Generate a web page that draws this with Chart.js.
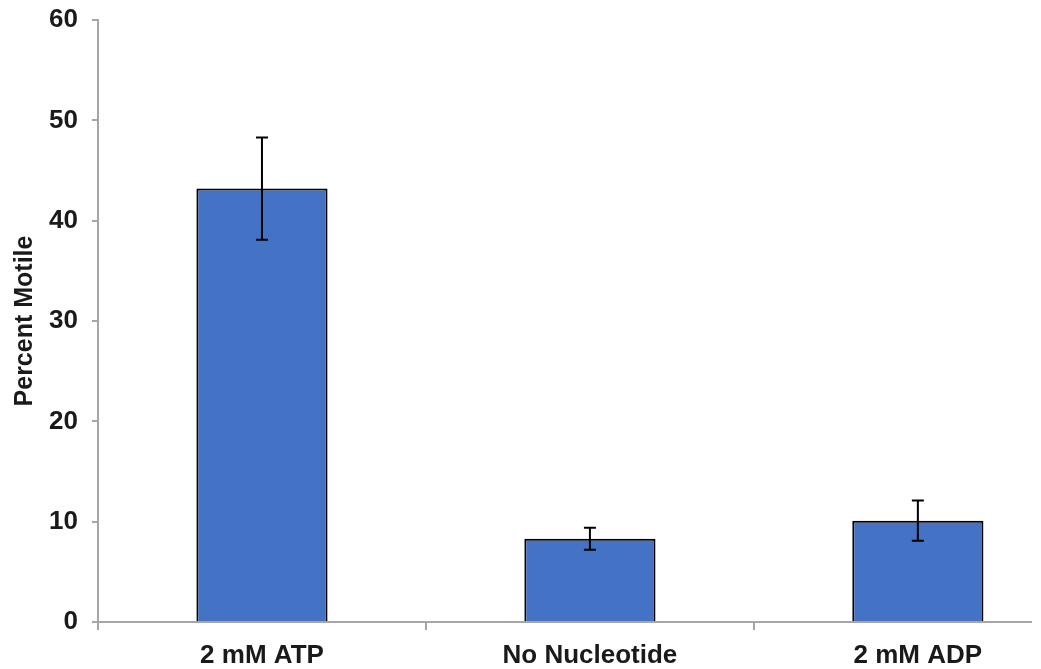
<!DOCTYPE html>
<html>
<head>
<meta charset="utf-8">
<script src="https://cdn.jsdelivr.net/npm/chart.js@4.4.1/dist/chart.umd.min.js"></script>
<style>
  html, body { margin: 0; padding: 0; background: #fff; overflow: hidden; }
  #wrap { position: relative; width: 1041px; height: 669px; }
</style>
</head>
<body>
<div id="wrap"><canvas id="chart"></canvas></div>
<script>
const categories = ["2 mM ATP", "No Nucleotide", "2 mM ADP"]
const values = [43.2, 8.3, 10.1]
const errors = [5.1, 1.1, 2.0]
const yTicks = [0, 10, 20, 30, 40, 50, 60]

const axisGrey = "#a6a6a6"
const textColor = "#1a1a1a"
const tickFont = { family: "'Liberation Sans', Arial, sans-serif", size: 26, weight: "bold" }

// error bars drawn on top of the bars, through the y scale
const errorBars = {
  id: "errorBars",
  afterDatasetsDraw(chart) {
    const meta = chart.getDatasetMeta(0)
    const y = chart.scales.y
    const ctx = chart.ctx
    ctx.save()
    ctx.strokeStyle = "#000"
    ctx.lineWidth = 2
    meta.data.forEach((bar, i) => {
      const top = y.getPixelForValue(values[i] + errors[i])
      const bottom = y.getPixelForValue(values[i] - errors[i])
      const cap = 6
      ctx.beginPath()
      ctx.moveTo(bar.x, top)
      ctx.lineTo(bar.x, bottom)
      ctx.moveTo(bar.x - cap, top)
      ctx.lineTo(bar.x + cap, top)
      ctx.moveTo(bar.x - cap, bottom)
      ctx.lineTo(bar.x + cap, bottom)
      ctx.stroke()
    })
    ctx.restore()
  },
}

const data = {
  datasets: [
    {
      label: "Percent Motile",
      data: categories.map((c, i) => ({ x: i + 0.5, y: values[i] })),
      backgroundColor: "#4472c4",
      borderColor: "#000",
      borderWidth: 2,
      categoryPercentage: 1,
      barPercentage: 0.8,
    },
  ],
}

const options = {
  responsive: true,
  maintainAspectRatio: false,
  animation: false,
  layout: { padding: { top: 20, right: 10, bottom: 0, left: 0 } },
  plugins: {
    legend: { display: false },
    tooltip: { enabled: false },
  },
  scales: {
    x: {
      type: "linear",
      bounds: "data",
      offset: false,
      min: 0,
      max: 2.845,
      afterBuildTicks(scale) {
        const t = []
        categories.forEach((c, i) => {
          t.push({ value: i })
          t.push({ value: i + 0.5 })
        })
        scale.ticks = t
      },
      afterFit(scale) {
        scale.height = 47
      },
      grid: {
        offset: false,
        drawOnChartArea: false,
        drawTicks: true,
        tickLength: 8,
        lineWidth: 2,
        color: (c) => (c.tick && c.tick.value % 1 === 0 ? axisGrey : "rgba(0,0,0,0)"),
      },
      border: { display: true, color: axisGrey, width: 2 },
      ticks: {
        autoSkip: false,
        maxRotation: 0,
        padding: 10,
        color: textColor,
        font: tickFont,
        callback: (v) => (v % 1 === 0 ? "" : categories[Math.floor(v)]),
      },
    },
    y: {
      min: 0,
      max: 60,
      afterBuildTicks(scale) {
        scale.ticks = yTicks.map((v) => ({ value: v }))
      },
      afterFit(scale) {
        scale.width = 98
        scale.paddingTop = 0
        scale.paddingBottom = 0
      },
      grid: {
        drawOnChartArea: false,
        drawTicks: true,
        tickLength: 6,
        lineWidth: 2,
        color: axisGrey,
      },
      border: { display: true, color: axisGrey, width: 2 },
      ticks: {
        padding: 14,
        color: textColor,
        font: tickFont,
      },
      title: {
        display: true,
        text: "Percent Motile",
        color: textColor,
        padding: { top: 10, bottom: 0 },
        font: { family: "'Liberation Sans', Arial, sans-serif", size: 25, weight: "bold" },
      },
    },
  },
}

new Chart(document.getElementById("chart"), {
  type: "bar",
  data: data,
  options: options,
  plugins: [errorBars],
})
</script>
</body>
</html>
